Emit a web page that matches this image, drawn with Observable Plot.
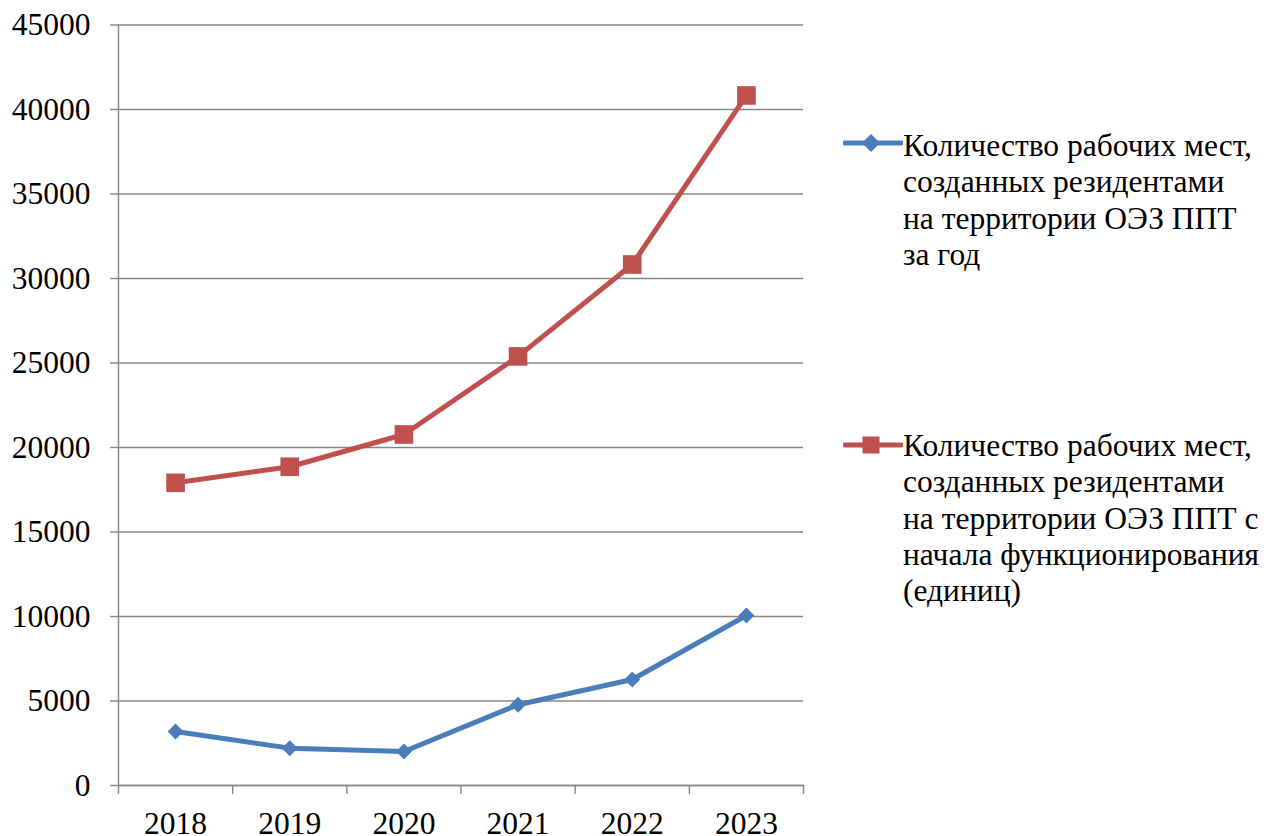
<!DOCTYPE html>
<html>
<head>
<meta charset="utf-8">
<script src="https://cdn.jsdelivr.net/npm/d3@7"></script>
<script src="https://cdn.jsdelivr.net/npm/@observablehq/plot@0.6"></script>
<style>
  html, body { margin: 0; padding: 0; background: #fff; }
  #wrap { position: relative; width: 1267px; height: 836px; overflow: hidden; font-family: "Liberation Serif", "DejaVu Serif", serif; }
  #chart { position: absolute; left: 0; top: 0; }
  .leg { position: absolute; left: 843px; font-size: 31.5px; line-height: 36.3px; color: #000; }
  .leg .sw { position: absolute; left: 0; top: 0; }
  .leg .tx { position: absolute; left: 60px; top: 2px; white-space: nowrap; }
</style>
</head>
<body>
<div id="wrap">
  <div id="chart"></div>
  <div class="leg" id="leg1" style="top:125px;"></div>
  <div class="leg" id="leg2" style="top:427px;"></div>
</div>
<script>
const years = [2018, 2019, 2020, 2021, 2022, 2023];
const perYear = [3200, 2210, 2010, 4780, 6270, 10060];
const sinceStart = [17910, 18860, 20770, 25390, 30830, 40830];
const yTicks = [0, 5000, 10000, 15000, 20000, 25000, 30000, 35000, 40000, 45000];
const seriesNames = [
  ["Количество рабочих мест,", "созданных резидентами", "на территории ОЭЗ ППТ", "за год"],
  ["Количество рабочих мест,", "созданных резидентами", "на территории ОЭЗ ППТ с", "начала функционирования", "(единиц)"]
];
const blue = "#4a7ebb";
const red = "#c0504d";
const gridColor = "#868686";

const blueData = years.map((y, i) => ({year: y, value: perYear[i]}));
const redData = years.map((y, i) => ({year: y, value: sinceStart[i]}));
const boundaries = [years[0] - 0.5, ...years.map(y => y + 0.5)];

const chart = Plot.plot({
  width: 820,
  height: 836,
  marginLeft: 118,
  marginRight: 17,
  marginTop: 24.5,
  marginBottom: 51,
  x: {type: "linear", domain: [years[0] - 0.5, years[years.length - 1] + 0.5]},
  y: {domain: [0, 45000]},
  style: {fontFamily: "'Liberation Serif', 'DejaVu Serif', serif", fontSize: "31.5px", color: "#000", background: "#fff", overflow: "visible"},
  marks: [
    Plot.gridY(yTicks, {stroke: gridColor, strokeOpacity: 1, strokeWidth: 1.4}),
    Plot.axisY(yTicks, {tickSize: 8, tickPadding: 20, stroke: gridColor, strokeWidth: 1.4, fill: "#000", tickFormat: d => String(d), label: null}),
    Plot.ruleX([boundaries[0]], {stroke: gridColor, strokeWidth: 1.4}),
    Plot.ruleY([0], {stroke: gridColor, strokeWidth: 1.4}),
    Plot.axisX(boundaries, {tickSize: 9, stroke: gridColor, strokeWidth: 1.4, tickFormat: () => "", label: null}),
    Plot.axisX(years, {tickSize: 0, tickPadding: 26, fill: "#000", tickFormat: d => String(d), label: null}),
    Plot.line(redData, {x: "year", y: "value", stroke: red, strokeWidth: 5}),
    Plot.dot(redData, {x: "year", y: "value", symbol: "square", r: 10.5, fill: red, stroke: "none"}),
    Plot.line(blueData, {x: "year", y: "value", stroke: blue, strokeWidth: 5}),
    Plot.dot(blueData, {x: "year", y: "value", symbol: "diamond2", r: 7.2, fill: blue, stroke: "none"})
  ]
});
document.getElementById("chart").appendChild(chart);

function legend(id, color, marker, lines, textTop) {
  const el = document.getElementById(id);
  const sw = marker === "diamond"
    ? `<path d="M28 9 L37 18 L28 27 L19 18 Z" fill="${color}"/>`
    : `<rect x="19.5" y="9.5" width="17" height="17" fill="${color}"/>`;
  el.innerHTML = `<svg class="sw" width="60" height="36" viewBox="0 0 60 36">
      <line x1="2" y1="18" x2="58" y2="18" stroke="${color}" stroke-width="5" stroke-linecap="round"/>${sw}</svg>
    <div class="tx" style="top:${textTop}px">${lines.join("<br>")}</div>`;
}
legend("leg1", blue, "diamond", seriesNames[0], 3);
legend("leg2", red, "square", seriesNames[1], 1);
</script>
</body>
</html>
